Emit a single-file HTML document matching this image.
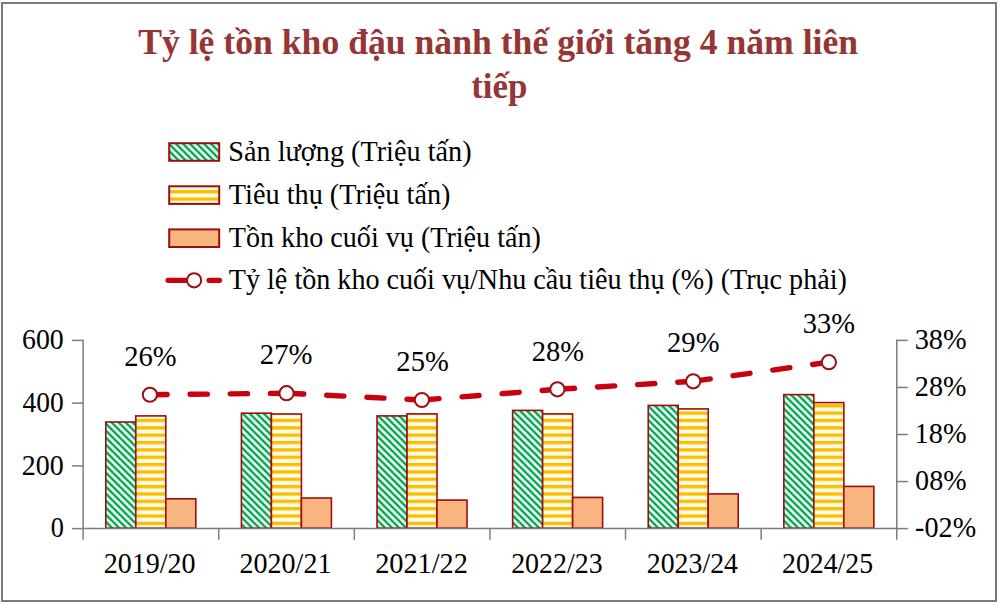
<!DOCTYPE html>
<html><head><meta charset="utf-8"><style>
html,body{margin:0;padding:0;background:#fff;}
body{width:1000px;height:605px;overflow:hidden;position:relative;}
svg{position:absolute;left:0;top:0;}
text{font-family:"Liberation Serif",serif;}
</style></head><body>
<svg width="1000" height="605" viewBox="0 0 1000 605">
<defs>
<pattern id="pg" patternUnits="userSpaceOnUse" x="2.714" width="8" height="8" patternTransform="scale(0.875,0.875)">
<rect width="8" height="8" fill="#effff6"/><polygon points="0.2,0 4.0,0 8,4.0 8,7.8" fill="#00a04e"/><polygon points="0,4.0 4.0,8 0.2,8 0,7.8" fill="#00a04e"/>
</pattern>
<pattern id="pgl" patternUnits="userSpaceOnUse" x="2.714" width="8" height="8" patternTransform="scale(0.875,0.875)">
<rect width="8" height="8" fill="#effff6"/><polygon points="0.2,0 4.0,0 8,4.0 8,7.8" fill="#00a04e"/><polygon points="0,4.0 4.0,8 0.2,8 0,7.8" fill="#00a04e"/>
</pattern>
<pattern id="py" patternUnits="userSpaceOnUse" y="-0.1" width="10" height="7.35">
<rect width="10" height="7.35" fill="#fffcea"/><rect y="0" width="10" height="3.3" fill="#fbbd00"/>
</pattern>
<pattern id="pyl" patternUnits="userSpaceOnUse" y="-1.0" width="10" height="7.35">
<rect width="10" height="7.35" fill="#fffcea"/><rect y="0" width="10" height="3.3" fill="#fbbd00"/>
</pattern>
</defs>
<rect x="0" y="0" width="1000" height="605" fill="#fff"/>
<rect x="2" y="3" width="994" height="598" fill="none" stroke="#7a7a7a" stroke-width="2"/>

<rect x="169.2" y="143.2" width="50.0" height="17.6" fill="url(#pgl)" stroke="#9c0e0e" stroke-width="2"/>
<rect x="169.2" y="186.3" width="50.0" height="17.6" fill="url(#pyl)" stroke="#9c0e0e" stroke-width="2"/>
<rect x="169.2" y="229.4" width="50.0" height="17.6" fill="#f8b580" stroke="#9c0e0e" stroke-width="2"/>
<path d="M168,280.3 L219.5,280.3" stroke="#c9000e" stroke-width="5.2" stroke-linecap="round" stroke-dasharray="17.4 23.6" fill="none"/>
<circle cx="194.1" cy="280.3" r="7.1" fill="#fff" stroke="#9c1010" stroke-width="2"/>
<line x1="83.1" y1="339.7" x2="83.1" y2="528.6" stroke="#7d7d7d" stroke-width="1.5"/>
<line x1="896.75" y1="339.7" x2="896.75" y2="528.6" stroke="#7d7d7d" stroke-width="1.5"/>
<line x1="71.9" y1="528.60" x2="83.1" y2="528.60" stroke="#7d7d7d" stroke-width="1.5"/>
<line x1="71.9" y1="465.87" x2="83.1" y2="465.87" stroke="#7d7d7d" stroke-width="1.5"/>
<line x1="71.9" y1="403.13" x2="83.1" y2="403.13" stroke="#7d7d7d" stroke-width="1.5"/>
<line x1="71.9" y1="340.40" x2="83.1" y2="340.40" stroke="#7d7d7d" stroke-width="1.5"/>
<line x1="896.75" y1="528.60" x2="907.8" y2="528.60" stroke="#7d7d7d" stroke-width="1.5"/>
<line x1="896.75" y1="481.55" x2="907.8" y2="481.55" stroke="#7d7d7d" stroke-width="1.5"/>
<line x1="896.75" y1="434.50" x2="907.8" y2="434.50" stroke="#7d7d7d" stroke-width="1.5"/>
<line x1="896.75" y1="387.45" x2="907.8" y2="387.45" stroke="#7d7d7d" stroke-width="1.5"/>
<line x1="896.75" y1="340.40" x2="907.8" y2="340.40" stroke="#7d7d7d" stroke-width="1.5"/>
<rect x="105.80" y="422.00" width="30.00" height="106.20" fill="url(#pg)" stroke="#9c0e0e" stroke-width="1.6"/>
<rect x="135.80" y="415.90" width="30.00" height="112.30" fill="url(#py)" stroke="#9c0e0e" stroke-width="1.6"/>
<rect x="165.80" y="498.80" width="30.00" height="29.40" fill="#f8b580" stroke="#9c0e0e" stroke-width="1.6"/>
<rect x="241.41" y="413.20" width="30.00" height="115.00" fill="url(#pg)" stroke="#9c0e0e" stroke-width="1.6"/>
<rect x="271.41" y="414.00" width="30.00" height="114.20" fill="url(#py)" stroke="#9c0e0e" stroke-width="1.6"/>
<rect x="301.41" y="498.00" width="30.00" height="30.20" fill="#f8b580" stroke="#9c0e0e" stroke-width="1.6"/>
<rect x="377.02" y="415.90" width="30.00" height="112.30" fill="url(#pg)" stroke="#9c0e0e" stroke-width="1.6"/>
<rect x="407.02" y="413.90" width="30.00" height="114.30" fill="url(#py)" stroke="#9c0e0e" stroke-width="1.6"/>
<rect x="437.02" y="500.10" width="30.00" height="28.10" fill="#f8b580" stroke="#9c0e0e" stroke-width="1.6"/>
<rect x="512.62" y="410.40" width="30.00" height="117.80" fill="url(#pg)" stroke="#9c0e0e" stroke-width="1.6"/>
<rect x="542.62" y="413.90" width="30.00" height="114.30" fill="url(#py)" stroke="#9c0e0e" stroke-width="1.6"/>
<rect x="572.62" y="497.40" width="30.00" height="30.80" fill="#f8b580" stroke="#9c0e0e" stroke-width="1.6"/>
<rect x="648.23" y="405.40" width="30.00" height="122.80" fill="url(#pg)" stroke="#9c0e0e" stroke-width="1.6"/>
<rect x="678.23" y="408.90" width="30.00" height="119.30" fill="url(#py)" stroke="#9c0e0e" stroke-width="1.6"/>
<rect x="708.23" y="493.90" width="30.00" height="34.30" fill="#f8b580" stroke="#9c0e0e" stroke-width="1.6"/>
<rect x="783.84" y="394.60" width="30.00" height="133.60" fill="url(#pg)" stroke="#9c0e0e" stroke-width="1.6"/>
<rect x="813.84" y="402.60" width="30.00" height="125.60" fill="url(#py)" stroke="#9c0e0e" stroke-width="1.6"/>
<rect x="843.84" y="486.40" width="30.00" height="41.80" fill="#f8b580" stroke="#9c0e0e" stroke-width="1.6"/>
<line x1="83.1" y1="528.6" x2="896.75" y2="528.6" stroke="#7d7d7d" stroke-width="1.5"/>
<line x1="83.10" y1="528.6" x2="83.10" y2="539.8" stroke="#7d7d7d" stroke-width="1.5"/>
<line x1="218.71" y1="528.6" x2="218.71" y2="539.8" stroke="#7d7d7d" stroke-width="1.5"/>
<line x1="354.32" y1="528.6" x2="354.32" y2="539.8" stroke="#7d7d7d" stroke-width="1.5"/>
<line x1="489.92" y1="528.6" x2="489.92" y2="539.8" stroke="#7d7d7d" stroke-width="1.5"/>
<line x1="625.53" y1="528.6" x2="625.53" y2="539.8" stroke="#7d7d7d" stroke-width="1.5"/>
<line x1="761.14" y1="528.6" x2="761.14" y2="539.8" stroke="#7d7d7d" stroke-width="1.5"/>
<line x1="896.75" y1="528.6" x2="896.75" y2="539.8" stroke="#7d7d7d" stroke-width="1.5"/>
<path d="M149.90,394.75 L286.55,393.20" stroke="#c9000e" stroke-width="5.4" stroke-linecap="round" stroke-dasharray="17.2 23" fill="none"/>
<path d="M286.55,393.20 L421.90,400.00" stroke="#c9000e" stroke-width="5.4" stroke-linecap="round" stroke-dasharray="17.2 23" fill="none"/>
<path d="M421.90,400.00 L557.40,389.30" stroke="#c9000e" stroke-width="5.4" stroke-linecap="round" stroke-dasharray="17.2 23" fill="none"/>
<path d="M557.40,389.30 L693.20,381.30" stroke="#c9000e" stroke-width="5.4" stroke-linecap="round" stroke-dasharray="17.2 23" fill="none"/>
<path d="M693.20,381.30 L828.90,362.20" stroke="#c9000e" stroke-width="5.4" stroke-linecap="round" stroke-dasharray="17.2 23" fill="none"/>
<circle cx="149.90" cy="394.75" r="7.1" fill="#fff" stroke="#9c1010" stroke-width="2"/>
<circle cx="286.55" cy="393.20" r="7.1" fill="#fff" stroke="#9c1010" stroke-width="2"/>
<circle cx="421.90" cy="400.00" r="7.1" fill="#fff" stroke="#9c1010" stroke-width="2"/>
<circle cx="557.40" cy="389.30" r="7.1" fill="#fff" stroke="#9c1010" stroke-width="2"/>
<circle cx="693.20" cy="381.30" r="7.1" fill="#fff" stroke="#9c1010" stroke-width="2"/>
<circle cx="828.90" cy="362.20" r="7.1" fill="#fff" stroke="#9c1010" stroke-width="2"/>
<text transform="translate(138.20,54.30) scale(0.9958,1)" font-size="35.8" font-weight="bold" fill="#963634">Tỷ lệ tồn kho đậu nành thế giới tăng 4 năm liên</text>
<text transform="translate(471.21,97.70) scale(0.9758,1)" font-size="35.8" font-weight="bold" fill="#963634">tiếp</text>
<text transform="translate(228.32,161.00) scale(0.9907,1)" font-size="28.5" fill="#000">Sản lượng (Triệu tấn)</text>
<text transform="translate(228.80,203.80) scale(0.9926,1)" font-size="28.5" fill="#000">Tiêu thụ (Triệu tấn)</text>
<text transform="translate(228.81,246.60) scale(0.9870,1)" font-size="28.5" fill="#000">Tồn kho cuối vụ (Triệu tấn)</text>
<text transform="translate(228.81,289.40) scale(0.9870,1)" font-size="28.5" fill="#000">Tỷ lệ tồn kho cuối vụ/Nhu cầu tiêu thụ (%) (Trục phải)</text>
<text transform="translate(50.83,537.30) scale(0.9224,1)" font-size="28.5" fill="#000">0</text>
<text transform="translate(21.87,474.57) scale(0.9827,1)" font-size="28.5" fill="#000">200</text>
<text transform="translate(22.62,411.83) scale(0.9648,1)" font-size="28.5" fill="#000">400</text>
<text transform="translate(22.08,349.10) scale(0.9753,1)" font-size="28.5" fill="#000">600</text>
<text transform="translate(915.11,537.40) scale(0.9891,1)" font-size="28.5" fill="#000">-02%</text>
<text transform="translate(915.11,490.35) scale(0.9851,1)" font-size="28.5" fill="#000">08%</text>
<text transform="translate(914.61,443.30) scale(0.9949,1)" font-size="28.5" fill="#000">18%</text>
<text transform="translate(914.86,396.25) scale(0.9900,1)" font-size="28.5" fill="#000">28%</text>
<text transform="translate(914.65,349.20) scale(0.9960,1)" font-size="28.5" fill="#000">38%</text>
<text transform="translate(103.67,572.50) scale(0.9846,1)" font-size="28.5" fill="#000">2019/20</text>
<text transform="translate(239.57,572.50) scale(0.9834,1)" font-size="28.5" fill="#000">2020/21</text>
<text transform="translate(375.16,572.50) scale(0.9934,1)" font-size="28.5" fill="#000">2021/22</text>
<text transform="translate(511.18,572.50) scale(0.9791,1)" font-size="28.5" fill="#000">2022/23</text>
<text transform="translate(646.78,572.50) scale(0.9766,1)" font-size="28.5" fill="#000">2023/24</text>
<text transform="translate(781.98,572.50) scale(0.9758,1)" font-size="28.5" fill="#000">2024/25</text>
<text transform="translate(124.14,365.70) scale(1.0040,1)" font-size="28.5" fill="#000">26%</text>
<text transform="translate(259.84,363.50) scale(1.0100,1)" font-size="28.5" fill="#000">27%</text>
<text transform="translate(396.35,371.10) scale(1.0040,1)" font-size="28.5" fill="#000">25%</text>
<text transform="translate(531.75,360.60) scale(1.0020,1)" font-size="28.5" fill="#000">28%</text>
<text transform="translate(667.04,352.30) scale(1.0040,1)" font-size="28.5" fill="#000">29%</text>
<text transform="translate(802.75,332.80) scale(1.0000,1)" font-size="28.5" fill="#000">33%</text>
</svg></body></html>
